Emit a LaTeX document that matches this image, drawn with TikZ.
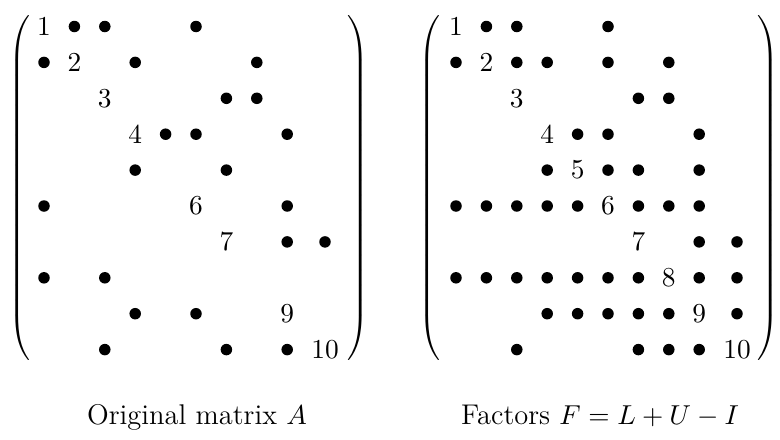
\documentclass[tikz,border=0pt]{standalone}
\tikzset{
  dot/.style={circle, fill=black, inner sep=0pt, minimum size=4.6pt},
  diag/.style={inner sep=0pt, font=\fontsize{10.5}{12}\selectfont},
  paren/.style={inner sep=0pt},
  caption/.style={anchor=base, inner sep=0pt, font=\fontsize{11.4}{14}\selectfont},
  declare function={colx(\c)=ifthenelse(\c==10,325,44+30.4*(\c-1)); rowy(\r)=26.5+35.9*(\r-1);}
}
\newcommand{\bigparen}{\vcenter{\hbox{\rule{0pt}{139pt}}}}
\begin{document}
\begin{tikzpicture}[x=0.4pt, y=-0.4pt]
    \useasboundingbox (0,0) rectangle (780,440);

    % 原矩阵 A
    \begin{scope}
        \node[paren] (A-lp) at (21,188) {$\left(\bigparen\right.$};
        \node[paren] (A-rp) at (357,188) {$\left.\bigparen\right)$};

        % 对角元
        \foreach \i in {1,2,3,4,6,7,9,10}
            \node[diag] (A-\i-\i) at ({colx(\i)},{rowy(\i)}) {$\i$};

        % 非零元
        \foreach \r/\c in {1/2,1/3,1/6, 2/1,2/4,2/8, 3/7,3/8, 4/5,4/6,4/9,
                           5/4,5/7, 6/1,6/9, 7/9,7/10, 8/1,8/3,
                           9/4,9/6, 10/3,10/7,10/9}
            \node[dot] (A-\r-\c) at ({colx(\c)},{rowy(\r)}) {};

        \node[caption] (A-cap) at (197,424) {Original matrix $A$};
    \end{scope}

    % 因子 F
    \begin{scope}[shift={(412,0)}]
        \node[paren] (F-lp) at (19,188) {$\left(\bigparen\right.$};
        \node[paren] (F-rp) at (355,188) {$\left.\bigparen\right)$};

        % 对角元
        \foreach \i in {1,...,10}
            \node[diag] (F-\i-\i) at ({colx(\i)},{rowy(\i)}) {$\i$};

        % 非零元（含填充）
        \foreach \r/\c in {1/2,1/3,1/6, 2/1,2/3,2/4,2/6,2/8, 3/7,3/8, 4/5,4/6,4/9,
                           5/4,5/6,5/7,5/9, 6/1,6/2,6/3,6/4,6/5,6/7,6/8,6/9,
                           7/9,7/10, 8/1,8/2,8/3,8/4,8/5,8/6,8/7,8/9,8/10,
                           9/4,9/5,9/6,9/7,9/8,9/10, 10/3,10/7,10/8,10/9}
            \node[dot] (F-\r-\c) at ({colx(\c)},{rowy(\r)}) {};

        \node[caption] (F-cap) at (188,424) {Factors $F = L + U - I$};
    \end{scope}
\end{tikzpicture}
\end{document}
